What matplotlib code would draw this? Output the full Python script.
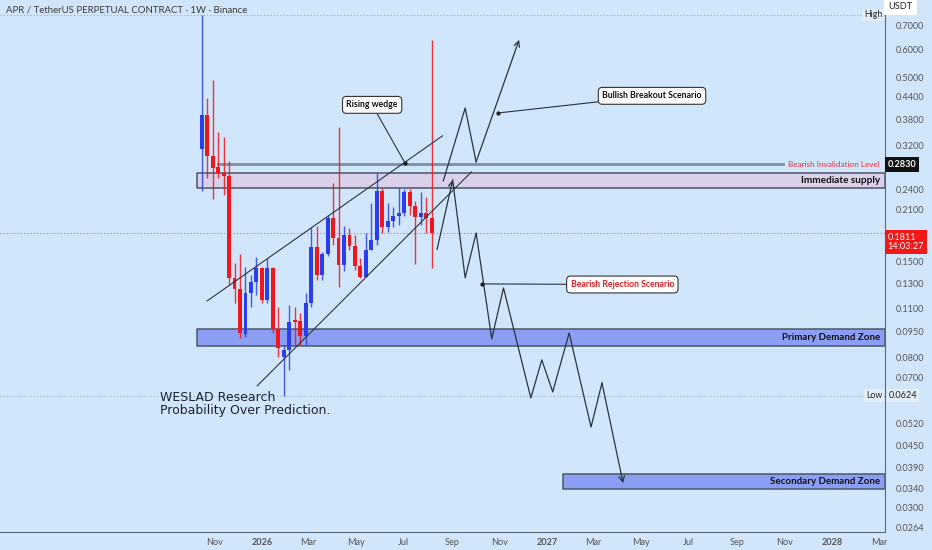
import numpy as np
import pandas as pd
import matplotlib
matplotlib.use('Agg')
import matplotlib.pyplot as plt
import matplotlib.transforms as mtrans

plt.rcParams['font.family'] = ['Lato', 'DejaVu Sans']

# weekly candles, APR/USDT perp
start = '2025-10-16'
opens = [0.313, 0.391, 0.299, 0.278, 0.2677, 0.2625, 0.1347, 0.1253, 0.0934, 0.1221,
         0.1312, 0.1438, 0.1166, 0.1438, 0.0965, 0.0803, 0.0841, 0.1023, 0.1017, 0.0922,
         0.1144, 0.1650, 0.1373, 0.1576, 0.1994, 0.1749, 0.1466, 0.1784, 0.1660, 0.1457,
         0.1356, 0.1618, 0.1727, 0.238, 0.1880, 0.1956, 0.2020, 0.2060, 0.2364, 0.2157,
         0.2008, 0.2060, 0.1994]
closes = [0.391, 0.299, 0.2765, 0.2677, 0.2625, 0.1347, 0.1253, 0.0940, 0.1221, 0.1312,
          0.1438, 0.1166, 0.1438, 0.0965, 0.0852, 0.0841, 0.1010, 0.1010, 0.0922, 0.1144,
          0.1650, 0.1373, 0.1576, 0.1994, 0.1749, 0.1466, 0.1784, 0.1660, 0.1457, 0.1356,
          0.1618, 0.1727, 0.238, 0.1880, 0.1956, 0.2020, 0.2060, 0.2364, 0.2157, 0.2008,
          0.2060, 0.1994, 0.1811]
highs = [0.752, 0.437, 0.492, 0.350, 0.339, 0.2895, 0.1485, 0.1576, 0.1448, 0.1373,
         0.1545, 0.1448, 0.1535, 0.1450, 0.1114, 0.0869, 0.1129, 0.1114, 0.1071, 0.1221,
         0.1880, 0.1893, 0.1600, 0.2034, 0.2507, 0.3616, 0.1893, 0.1868, 0.1784, 0.1535,
         0.1807, 0.2199, 0.2677, 0.2426, 0.2199, 0.2143, 0.2426, 0.2411, 0.2411, 0.2229,
         0.2364, 0.2288, 0.6388]
lows = [0.238, 0.259, 0.2258, 0.259, 0.2318, 0.1287, 0.1144, 0.0910, 0.0916, 0.1114,
        0.1205, 0.1144, 0.1144, 0.0940, 0.0803, 0.0624, 0.0738, 0.0869, 0.0869, 0.0869,
        0.1114, 0.1329, 0.1329, 0.1555, 0.1672, 0.1270, 0.1410, 0.1618, 0.1419, 0.1347,
        0.1356, 0.1618, 0.1672, 0.1807, 0.1820, 0.1880, 0.1905, 0.2020, 0.2034, 0.1476,
        0.1905, 0.1807, 0.1438]

high_mark = 0.752
low_mark = 0.0624
last_price = 0.1811
invalidation = 0.2830

# zones (top, bottom)
supply_zone = (0.2677, 0.2426)
primary_zone = (0.0965, 0.0863)
secondary_zone = (0.0374, 0.0339)

# wedge lines
wedge_upper = (['2025-10-23', '2026-08-20'], [0.1159, 0.341])
wedge_lower = (['2025-12-26', '2026-09-26'], [0.0665, 0.2694])

# scenario paths
bull_dates = ['2026-08-21', '2026-09-18', '2026-10-02', '2026-11-26']
bull_prices = [0.254, 0.409, 0.2876, 0.639]
bear_dates = ['2026-08-13', '2026-09-02', '2026-09-18', '2026-10-02', '2026-10-22', '2026-11-06',
              '2026-12-11', '2026-12-25', '2027-01-08', '2027-01-29', '2027-02-26', '2027-03-12',
              '2027-04-08']
bear_prices = [0.162, 0.2556, 0.1347, 0.1807, 0.0904, 0.1261, 0.0614, 0.0788, 0.0639, 0.0940,
               0.0508, 0.0678, 0.0352]

price_ticks = [0.7, 0.6, 0.5, 0.44, 0.38, 0.32, 0.24, 0.21, 0.15, 0.13, 0.11, 0.095, 0.08,
               0.07, 0.052, 0.045, 0.039, 0.034, 0.030, 0.0264]
date_ticks = ['2025-11-01', '2026-01-01', '2026-03-01', '2026-05-01', '2026-07-01', '2026-09-01',
              '2026-11-01', '2027-01-01', '2027-03-01', '2027-05-01', '2027-07-01', '2027-09-01',
              '2027-11-01', '2028-01-01', '2028-03-01']
date_labels = ['Nov', '2026', 'Mar', 'May', 'Jul', 'Sep', 'Nov', '2027', 'Mar', 'May', 'Jul',
               'Sep', 'Nov', '2028', 'Mar']

bg = '#d2e6fb'
blue = '#2a3ef0'
red = '#f0161b'
ink = '#2a3440'

fig = plt.figure(figsize=(9.32, 5.5), dpi=100)
fig.patch.set_facecolor(bg)
ax = fig.add_axes([0, 18 / 550, 885 / 932, 532 / 550])
ax.set_facecolor(bg)
ax.set_yscale('log')

weeks = pd.date_range(start, periods=len(opens), freq='7D')
o = np.array(opens)
c = np.array(closes)
cols = [blue if cc >= oo else red for oo, cc in zip(o, c)]

ax.vlines(weeks, lows, highs, colors=cols, lw=1.0, alpha=0.85, zorder=3)
ax.bar(weeks, np.abs(c - o), bottom=np.minimum(o, c), width=5.0, color=cols, lw=0, zorder=4)

left = pd.Timestamp('2025-01-31')
right = pd.Timestamp('2028-03-08')
ax.set_xlim(left, right)
ax.set_ylim(0.02557, 0.829)

# dotted reference lines
ax.axhline(high_mark, color='#9aa8b5', lw=0.8, ls=(0, (1, 2)), zorder=1)
ax.axhline(low_mark, color='#9aa8b5', lw=0.8, ls=(0, (1, 2)), zorder=1)
ax.axhline(last_price, color='#e07070', lw=0.8, ls=(0, (1, 2)), zorder=1)

# zones
zl = pd.Timestamp('2025-10-10')
for (top, bot), fc, x0 in [(supply_zone, '#d9d0ea', zl), (primary_zone, '#8c9ef4', zl),
                           (secondary_zone, '#8c9ef4', pd.Timestamp('2027-01-21'))]:
    ax.fill_between([x0, right], bot, top, facecolor=fc, edgecolor='#4a5866', lw=1.1, zorder=2)

ax.plot([pd.Timestamp('2025-11-06'), pd.Timestamp('2027-10-30')], [invalidation] * 2,
        color='#7b8ea3', lw=2, zorder=2)

tr = mtrans.blended_transform_factory(ax.transAxes, ax.transData)
ax.text(0.9945, invalidation, 'Bearish Invalidation Level', transform=tr, ha='right',
        va='center', fontsize=5.9, color='#e0303a')
ax.text(0.9945, np.sqrt(supply_zone[0] * supply_zone[1]), 'Immediate supply', transform=tr,
        ha='right', va='center', fontsize=7.2, fontweight='bold', color='#111')
ax.text(0.9945, np.sqrt(primary_zone[0] * primary_zone[1]), 'Primary Demand Zone', transform=tr,
        ha='right', va='center', fontsize=7, fontweight='bold', color='#111')
ax.text(0.9945, np.sqrt(secondary_zone[0] * secondary_zone[1]), 'Secondary Demand Zone',
        transform=tr, ha='right', va='center', fontsize=7, fontweight='bold', color='#111')

# wedge
ax.plot(pd.to_datetime(wedge_upper[0]), wedge_upper[1], color=ink, lw=0.8, zorder=5)
ax.plot(pd.to_datetime(wedge_lower[0]), wedge_lower[1], color=ink, lw=0.8, zorder=5)

# scenario paths
bd = pd.to_datetime(bull_dates)
ax.plot(bd[:-1], bull_prices[:-1], color=ink, lw=0.9, zorder=5)
ax.annotate('', xy=(bd[-1], bull_prices[-1]), xytext=(bd[-2], bull_prices[-2]),
            arrowprops=dict(arrowstyle='->', color=ink, lw=0.9, shrinkA=0, shrinkB=0), zorder=5)
rd = pd.to_datetime(bear_dates)
ax.annotate('', xy=(rd[1], bear_prices[1]), xytext=(rd[0], bear_prices[0]),
            arrowprops=dict(arrowstyle='->', color=ink, lw=0.9, shrinkA=0, shrinkB=0), zorder=5)
ax.plot(rd[1:-1], bear_prices[1:-1], color=ink, lw=0.9, zorder=5)
ax.annotate('', xy=(rd[-1], bear_prices[-1]), xytext=(rd[-2], bear_prices[-2]),
            arrowprops=dict(arrowstyle='->', color=ink, lw=0.9, shrinkA=0, shrinkB=0), zorder=5)

# callouts
callouts = [('Rising wedge', '2026-07-03', 0.2857, '2026-05-22', 0.4176, '#111'),
            ('Bullish Breakout Scenario', '2026-10-30', 0.396, '2027-05-15', 0.443, '#111'),
            ('Bearish Rejection Scenario', '2026-10-10', 0.1295, '2027-04-07', 0.1290, '#e0202a')]
for label, dx, dy, tx, ty, tc in callouts:
    p = (pd.Timestamp(dx), dy)
    ax.plot(*p, 'o', ms=2, color='#111', zorder=6)
    ax.annotate(label, xy=p, xytext=(pd.Timestamp(tx), ty), ha='center', va='center',
                fontsize=6.3, fontweight='bold', color=tc, zorder=6,
                bbox=dict(boxstyle='round,pad=0.45', fc='white', ec='#333', lw=0.8),
                arrowprops=dict(arrowstyle='-', color=ink, lw=0.8, shrinkA=0, shrinkB=0))

# watermark
ax.text(160 / 885, 1 - 404 / 532, 'WESLAD Research\nProbability Over Prediction.',
        transform=ax.transAxes, fontsize=9, family='DejaVu Sans', color='#1c2230',
        va='center', ha='left', linespacing=0.95)

# axes styling
for s in ['top', 'left']:
    ax.spines[s].set_visible(False)
ax.spines['right'].set_color('#5a6878')
ax.spines['bottom'].set_color('#5a6878')
ax.yaxis.tick_right()
ax.yaxis.set_minor_locator(plt.NullLocator())
ax.set_yticks(price_ticks)
ax.set_yticklabels(['%.4f' % v for v in price_ticks])
ax.tick_params(axis='y', length=0, pad=8, labelsize=6.6, labelcolor='#555')
ax.set_xticks(pd.to_datetime(date_ticks))
ax.set_xticklabels(date_labels)
ax.tick_params(axis='x', length=0, pad=4, labelsize=6.6, labelcolor='#555')
for t in ax.get_xticklabels():
    if t.get_text().isdigit():
        t.set_fontweight('bold')

# right-axis price tags
ax.text(1.004, 0.9965, 'USDT', transform=ax.transAxes, ha='left', va='top', fontsize=6.6,
        color='#222', bbox=dict(boxstyle='square,pad=0.45', fc='white', ec='none'), clip_on=False)
ax.text(1.003, invalidation, '0.2830', transform=tr, ha='left', va='center', fontsize=6.6,
        color='white', fontweight='bold', bbox=dict(boxstyle='square,pad=0.3', fc='#111', ec='none'),
        clip_on=False)
ax.text(1.003, last_price, '0.1811\n14:03:27', transform=tr, ha='left', va='top', fontsize=6.6,
        color='white', linespacing=1.05, bbox=dict(boxstyle='square,pad=0.3', fc='#f21818', ec='none'),
        clip_on=False)
ax.text(1.004, low_mark, '0.0624', transform=tr, ha='left', va='center', fontsize=6.6,
        color='#222', bbox=dict(boxstyle='square,pad=0.2', fc='#e4eef9', ec='none'), clip_on=False)
ax.text(0.997, high_mark, 'High', transform=tr, ha='right', va='center', fontsize=6.3,
        color='#222', bbox=dict(boxstyle='square,pad=0.2', fc='#e4eef9', ec='none'))
ax.text(0.997, low_mark, 'Low', transform=tr, ha='right', va='center', fontsize=6.3,
        color='#222', bbox=dict(boxstyle='square,pad=0.2', fc='#e4eef9', ec='none'))

fig.text(6 / 932, 1 - 10 / 550, 'APR / TetherUS PERPETUAL CONTRACT · 1W · Binance',
         fontsize=6.9, color='#3a3a3a', va='center', ha='left')

fig.savefig('out.png', dpi=100, facecolor=bg)
